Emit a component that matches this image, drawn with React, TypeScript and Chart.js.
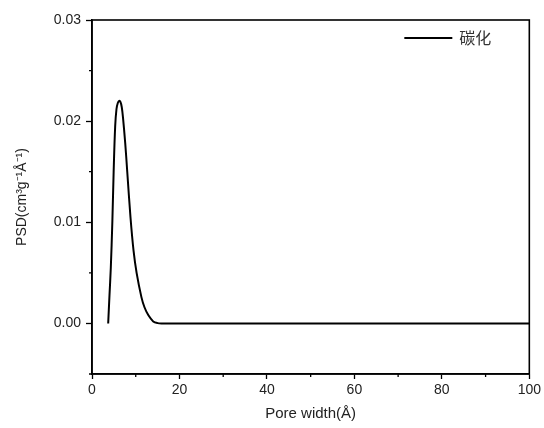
import React, { useEffect, useRef } from "react";
import { Chart, registerables } from "chart.js";

Chart.register(...registerables);

const seriesLabel = "碳化";
const poreWidth = [3.7, 4.0, 4.3, 4.65, 4.95, 5.3, 5.6, 5.9, 6.2, 6.5, 6.8, 7.1, 7.6, 8.06, 8.8, 9.5, 10.2, 11.3, 12.0, 12.9, 14.0, 15.0, 16.0, 30, 50, 70, 100];
const psd = [0.0, 0.0028, 0.0055, 0.01, 0.015, 0.0195, 0.0212, 0.0218, 0.022, 0.0219, 0.0214, 0.0203, 0.0178, 0.015, 0.0105, 0.0072, 0.005, 0.0026, 0.0016, 0.0008, 0.0002, 0.00003, 0, 0, 0, 0, 0];
const xMajorTicks = [0, 20, 40, 60, 80, 100];
const xMinorTicks = [10, 30, 50, 70, 90];
const yMajorTicks = [0, 0.01, 0.02, 0.03];
const yMinorTicks = [-0.005, 0.005, 0.015, 0.025];
const xRange = [0, 100];
const yRange = [-0.005, 0.03];

const FONT = "'Liberation Sans', Arial, sans-serif";

const framePlugin = {
  id: "frameAndMinor",
  afterDraw(chart: any) {
    const { ctx, chartArea, scales } = chart;
    ctx.save();
    ctx.strokeStyle = "#000";
    ctx.lineWidth = 1.6;
    ctx.strokeRect(chartArea.left, chartArea.top, chartArea.right - chartArea.left, chartArea.bottom - chartArea.top);
    ctx.lineWidth = 1.3;
    ctx.beginPath();
    for (const v of xMinorTicks) {
      const px = scales.x.getPixelForValue(v);
      ctx.moveTo(px, chartArea.bottom);
      ctx.lineTo(px, chartArea.bottom + 3);
    }
    for (const v of yMinorTicks) {
      const py = scales.y.getPixelForValue(v);
      ctx.moveTo(chartArea.left, py);
      ctx.lineTo(chartArea.left - 3, py);
    }
    ctx.stroke();
    // legend
    const lx = chartArea.right - 125;
    const ly = chartArea.top + 18;
    ctx.lineWidth = 2;
    ctx.beginPath();
    ctx.moveTo(lx, ly);
    ctx.lineTo(lx + 48, ly);
    ctx.stroke();
    ctx.fillStyle = "#333";
    ctx.font = "16px 'Noto Sans CJK SC', sans-serif";
    ctx.textBaseline = "middle";
    ctx.textAlign = "left";
    ctx.fillText(chart.data.datasets[0].label, lx + 55, ly);
    ctx.restore();
  },
};

export default function App() {
  const ref = useRef<HTMLCanvasElement>(null);
  useEffect(() => {
    const chart = new Chart(ref.current!, {
      type: "line",
      data: {
        datasets: [
          {
            label: seriesLabel,
            data: poreWidth.map((x, i) => ({ x, y: psd[i] })),
            borderColor: "#000",
            borderWidth: 2,
            pointRadius: 0,
            tension: 0.35,
            fill: false,
          },
        ],
      },
      options: {
        animation: false,
        responsive: false,
        layout: { padding: { left: 14, top: 20, right: 14, bottom: 5 } },
        plugins: { legend: { display: false }, tooltip: { enabled: false } },
        scales: {
          x: {
            type: "linear",
            min: xRange[0],
            max: xRange[1],
            afterBuildTicks: (s: any) => {
              s.ticks = xMajorTicks.map((v) => ({ value: v }));
            },
            afterFit: (s: any) => {
              s.height = 49;
            },
            border: { display: true, color: "#000", width: 1.6 },
            grid: { drawOnChartArea: false, tickLength: 5, color: "#000", tickWidth: 1.3 },
            ticks: { color: "#222", font: { family: FONT, size: 14 }, padding: 3, maxRotation: 0, callback: (v: any) => String(v) },
            title: { display: true, text: "Pore width(Å)", color: "#222", font: { family: FONT, size: 15 }, padding: { top: 1, bottom: 0 } },
          },
          y: {
            type: "linear",
            min: yRange[0],
            max: yRange[1],
            afterBuildTicks: (s: any) => {
              s.ticks = yMajorTicks.map((v) => ({ value: v }));
            },
            afterFit: (s: any) => {
              s.width = 78;
            },
            border: { display: true, color: "#000", width: 1.6 },
            grid: { drawOnChartArea: false, tickLength: 6, color: "#000", tickWidth: 1.3 },
            ticks: { color: "#222", font: { family: FONT, size: 14 }, padding: 5, callback: (v: any) => Number(v).toFixed(2) },
            title: { display: true, text: "PSD(cm³g⁻¹Å⁻¹)", color: "#222", font: { family: FONT, size: 14 }, padding: { top: 0, bottom: 8 } },
          },
        },
      },
      plugins: [framePlugin],
    } as any);
    return () => chart.destroy();
  }, []);
  return (
    <div style={{ position: "fixed", left: 0, top: 0, width: 544, height: 428, background: "#fff" }}>
      <canvas ref={ref} width={544} height={428} />
    </div>
  );
}
